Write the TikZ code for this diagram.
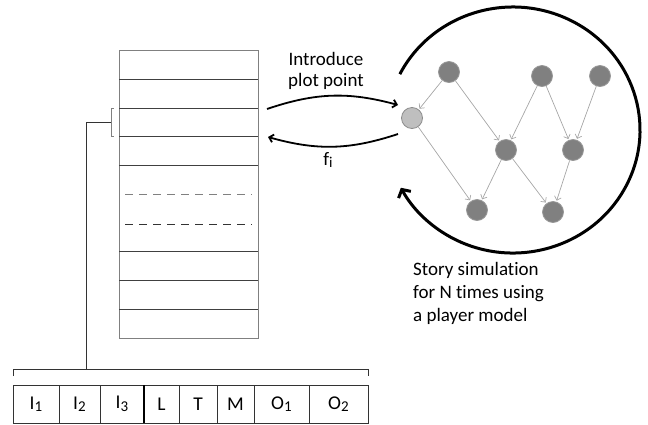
\documentclass[tikz,border=0pt]{standalone}
\usepackage{fontspec}
\setmainfont{Carlito}[Ligatures=NoCommon]
\usetikzlibrary{arrows.meta}
\newcommand\lowsub[1]{\raisebox{-2.5pt}{\fontsize{15}{15}\selectfont#1}}

\begin{document}
\begin{tikzpicture}[x=1pt,y=-1pt,
    plot node/.style={circle,fill=black!50,draw=black!40,line width=0.8pt,minimum size=21pt,inner sep=0pt},
    new node/.style={plot node,fill=black!25,draw=black!45},
    depend/.style={draw=black!35,line width=0.7pt,-{Straight Barb[length=3.5pt,width=7pt]},shorten >=1pt},
    swap/.style={line width=1.8pt,-{Straight Barb[length=4pt,width=8pt]}},
    cellbox/.style={draw=black!80,line width=0.8pt,minimum height=38pt,inner sep=0pt,outer sep=0pt,anchor=west,font=\fontsize{19.5}{21}\selectfont},
    row/.style={draw=black!75,line width=0.8pt},
    say/.style={font=\fontsize{19}{21}\selectfont,inner sep=0pt}]

\useasboundingbox (0,0) rectangle (648,424);

% stack of slots
\draw[draw=black!50,line width=0.9pt] (119,50) rectangle (258,338);
\foreach \y in {79,108,136,165,251,280,309} \draw[row] (119,\y) -- (258,\y);
\draw[black!50,line width=0.8pt,dash pattern=on 8pt off 6pt] (125,194) -- (252,194);
\draw[black!80,line width=0.8pt,dash pattern=on 8pt off 6pt] (125,224) -- (252,224);
\draw[black!50,line width=0.8pt] (114,108) -- (111,108) -- (111,136) -- (114,136);
\coordinate (slot) at (111,122);

% vector of one slot
\node[cellbox,minimum width=46pt] (c1) at (13,404) {I\lowsub{1}};
\node[cellbox,minimum width=41pt] (c2) at (c1.east) {I\lowsub{2}};
\node[cellbox,minimum width=44pt] (c3) at (c2.east) {I\lowsub{3}};
\node[cellbox,minimum width=35pt] (c4) at (c3.east) {L};
\node[cellbox,minimum width=38pt] (c5) at (c4.east) {T};
\node[cellbox,minimum width=37pt] (c6) at (c5.east) {M};
\node[cellbox,minimum width=55pt] (c7) at (c6.east) {O\lowsub{1}};
\node[cellbox,minimum width=59pt] (c8) at (c7.east) {O\lowsub{2}};
\draw[line width=1.8pt] (c3.north east) -- (c3.south east);
\draw[black!80,line width=0.8pt] (13,376) -- (13,369) coordinate (brace) -- (368,369) -- (368,376);
\draw[black!80,line width=0.8pt] (slot) -- (86,122) -- (86,369);

% story graph
\node[plot node] (A) at (449,72) {};
\node[plot node] (B) at (542,76) {};
\node[plot node] (C) at (600,76) {};
\node[new node] (D) at (412,118) {};
\node[plot node] (E) at (506,150) {};
\node[plot node] (F) at (573,150) {};
\node[plot node] (G) at (477,210) {};
\node[plot node] (H) at (553,212) {};

\path[depend]
(A) edge (D)
(A) edge (E)
(B) edge (E)
(B) edge (F)
(C) edge (F)
(D) edge (G)
(E) edge (G)
(E) edge (H)
(F) edge (H);

\coordinate (sim) at (513,130);
\draw[line width=3pt,-{Straight Barb[length=6pt,width=14pt]}]
  ([shift={(-153:127 and 123)}]sim) arc[start angle=-153,end angle=152,x radius=127,y radius=123];

\coordinate (out) at (267,109);
\coordinate (in) at (398,105);
\coordinate (back) at (398,134);
\coordinate (ret) at (268,137);
\draw[swap] (out) to[bend left=17] (in);
\draw[swap] (back) to[bend left=17] (ret);
\node[say,align=center] (intro) at (326,71) {Introduce\\plot point};
\node[say] (fi) at (328,160) {f\lowsub{i}};

\node[say,anchor=north west,align=left,font=\fontsize{19}{23}\selectfont] (story) at (413,262)
  {Story simulation\\for N times using\\a player model};

\end{tikzpicture}
\end{document}
